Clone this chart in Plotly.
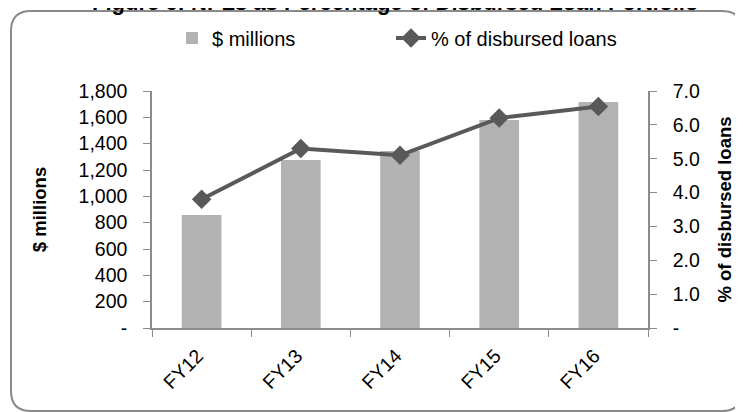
import plotly.graph_objects as go

categories = ["FY12", "FY13", "FY14", "FY15", "FY16"]
npl_millions = [858, 1276, 1345, 1580, 1716]
npl_pct = [3.8, 5.3, 5.1, 6.2, 6.54]

left_tickvals = [0, 200, 400, 600, 800, 1000, 1200, 1400, 1600, 1800]
left_ticktext = ["-", "200", "400", "600", "800", "1,000", "1,200", "1,400", "1,600", "1,800"]
right_tickvals = [0, 1, 2, 3, 4, 5, 6, 7]
right_ticktext = ["-", "1.0", "2.0", "3.0", "4.0", "5.0", "6.0", "7.0"]

FONT = "Arial, Liberation Sans, sans-serif"
AXIS_GREY = "#8c8c8c"

# the page has an 8px body margin, so the figure is drawn 8px in from the window corner
OFF = 8
W, H = 743 - OFF, 412 - OFF
L, T = 152 - OFF, 91 - OFF
R = W - (648 - OFF)
B = H - (328 - OFF)
PW, PH = W - L - R, H - T - B


def px_x(px):
    # px: window pixel
    return (px - OFF - L) / PW


def px_y(py):
    return (H - B - (py - OFF)) / PH


fig = go.Figure()
fig.add_trace(go.Bar(
    x=categories, y=npl_millions, name="$ millions",
    marker=dict(color="#b2b2b2", line=dict(width=0)),
    yaxis="y", legend="legend",
))
fig.add_trace(go.Scatter(
    x=categories, y=npl_pct, name="% of disbursed loans",
    mode="lines+markers",
    line=dict(color="#595959", width=4),
    marker=dict(symbol="diamond", size=15, color="#595959"),
    yaxis="y2", legend="legend2",
))

# rounded border
x0, x1 = px_x(11), px_x(742)
y0, y1 = px_y(411), px_y(11)
rx, ry = 20 / PW, 20 / PH
path = (f"M{x0+rx},{y1} L{x1-rx},{y1} Q{x1},{y1} {x1},{y1-ry} "
        f"L{x1},{y0+ry} Q{x1},{y0} {x1-rx},{y0} L{x0+rx},{y0} "
        f"Q{x0},{y0} {x0},{y0+ry} L{x0},{y1-ry} Q{x0},{y1} {x0+rx},{y1} Z")

legend_common = dict(orientation="h", xanchor="left", yanchor="middle",
                     font=dict(size=20), bgcolor="rgba(0,0,0,0)")

fig.update_layout(
    width=W, height=H,
    margin=dict(l=L, r=R, t=T, b=B, autoexpand=False),
    paper_bgcolor="white", plot_bgcolor="white",
    font=dict(family=FONT, size=19, color="#000000"),
    bargap=0.6,
    showlegend=True,
    legend=dict(x=px_x(172), y=px_y(38), **legend_common),
    legend2=dict(x=px_x(391), y=px_y(38), **legend_common),
    xaxis=dict(
        type="category", categoryorder="array", categoryarray=categories,
        showline=True, linecolor=AXIS_GREY, linewidth=1.5,
        ticks="outside", ticklen=7, tickcolor=AXIS_GREY, tickson="boundaries",
        tickangle=-45, tickfont=dict(size=19.5), showgrid=False, zeroline=False,
        ticklabelstandoff=7, ticklabelshift=-4,
    ),
    yaxis=dict(
        range=[0, 1800], tickvals=left_tickvals, ticktext=left_ticktext,
        showline=True, linecolor=AXIS_GREY, linewidth=1.5,
        ticks="outside", ticklen=7, tickcolor=AXIS_GREY,
        ticklabelstandoff=12,
        showgrid=False, zeroline=False, tickfont=dict(size=19.5),
        title=dict(text="<b>$ millions</b>", font=dict(size=18.5), standoff=27),
    ),
    yaxis2=dict(
        range=[0, 7], tickvals=right_tickvals, ticktext=right_ticktext,
        overlaying="y", side="right",
        showline=True, linecolor=AXIS_GREY, linewidth=1.5,
        ticks="outside", ticklen=7, tickcolor=AXIS_GREY,
        ticklabelstandoff=12,
        showgrid=False, zeroline=False, tickfont=dict(size=19.5),
        title=dict(text="<b>% of disbursed loans</b>", font=dict(size=18.5), standoff=19),
    ),
    yaxis3=dict(
        range=[0, 1800], tickvals=left_tickvals, overlaying="y", side="left",
        showticklabels=False, ticks="inside", ticklen=7, tickcolor=AXIS_GREY,
        showline=False, showgrid=False, zeroline=False,
    ),
    yaxis4=dict(
        range=[0, 7], tickvals=right_tickvals, overlaying="y", side="right",
        showticklabels=False, ticks="inside", ticklen=7, tickcolor=AXIS_GREY,
        showline=False, showgrid=False, zeroline=False,
    ),
    shapes=[dict(type="path", xref="paper", yref="paper", path=path,
                 line=dict(color="#8a8a8a", width=2), fillcolor="rgba(0,0,0,0)",
                 layer="below")],
    annotations=[dict(
        text="<b>Figure 6: NPLs as Percentage of Disbursed Loan Portfolio</b>",
        xref="paper", yref="paper", x=px_x(395), y=px_y(17),
        xanchor="center", yanchor="bottom", showarrow=False,
        font=dict(size=22, color="#000000"),
    )],
)

fig.write_html("out.html")
